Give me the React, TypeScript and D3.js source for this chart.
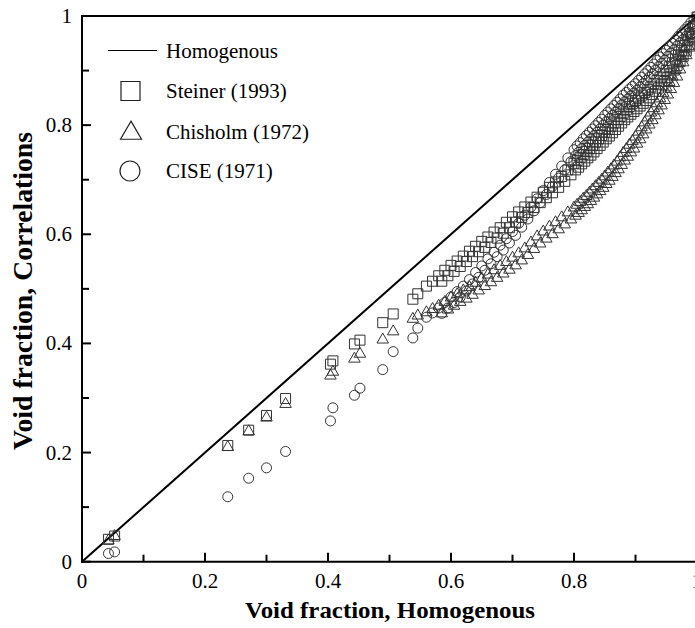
import React from "react";
import * as d3 from "d3";

// ---- data ----
// run A: sparse points + dense band centre
const HOM_X = [
  0.043, 0.053, 0.237, 0.271, 0.300, 0.331, 0.404, 0.408, 0.443, 0.452, 0.489, 0.506, 0.538, 0.546,
  0.56, 0.57, 0.58, 0.59, 0.60, 0.61, 0.62, 0.63, 0.64, 0.65, 0.66, 0.67, 0.68, 0.69, 0.70, 0.71, 0.72, 0.73, 0.74, 0.75, 0.76, 0.77, 0.78, 0.79, 0.80,
  0.805, 0.81, 0.815, 0.82, 0.825, 0.83, 0.835, 0.84, 0.845, 0.85, 0.855, 0.86, 0.865, 0.87, 0.875, 0.88, 0.885, 0.89, 0.895, 0.90,
  0.905, 0.91, 0.915, 0.92, 0.925, 0.93, 0.935, 0.94, 0.945, 0.95, 0.955, 0.96, 0.965, 0.97, 0.975, 0.98, 0.985, 0.99, 0.995, 1.0,
];

const STEINER = [
  0.041, 0.047, 0.213, 0.241, 0.268, 0.299, 0.362, 0.368, 0.399, 0.406, 0.438, 0.454, 0.481, 0.491,
  0.505, 0.514, 0.524, 0.534, 0.543, 0.551, 0.560, 0.569, 0.578, 0.587, 0.595, 0.604, 0.612, 0.622, 0.632, 0.641, 0.650, 0.659, 0.668, 0.677, 0.686, 0.696, 0.706, 0.718, 0.730,
  0.735, 0.741, 0.746, 0.752, 0.757, 0.763, 0.769, 0.775, 0.781, 0.787, 0.792, 0.798, 0.804, 0.810, 0.816, 0.822, 0.828, 0.834, 0.840, 0.845,
  0.850, 0.855, 0.860, 0.865, 0.870, 0.876, 0.882, 0.888, 0.894, 0.900, 0.907, 0.914, 0.921, 0.929, 0.937, 0.946, 0.956, 0.968, 0.982, 0.998,
];

const CHISHOLM = [
  0.040, 0.048, 0.211, 0.240, 0.265, 0.290, 0.342, 0.349, 0.373, 0.382, 0.408, 0.423, 0.446, 0.452,
  0.458, 0.464, 0.470, 0.477, 0.485, 0.491, 0.498, 0.504, 0.512, 0.520, 0.527, 0.535, 0.543, 0.550, 0.558, 0.566, 0.575, 0.586, 0.597, 0.606, 0.615, 0.623, 0.632, 0.641, 0.650,
  0.655, 0.660, 0.666, 0.671, 0.677, 0.683, 0.689, 0.695, 0.701, 0.707, 0.714, 0.720, 0.727, 0.734, 0.742, 0.750, 0.757, 0.765, 0.772, 0.780,
  0.789, 0.797, 0.806, 0.815, 0.824, 0.832, 0.841, 0.850, 0.860, 0.870, 0.880, 0.890, 0.902, 0.914, 0.927, 0.940, 0.954, 0.968, 0.984, 0.998,
];

const CISE = [
  0.015, 0.018, 0.119, 0.153, 0.172, 0.202, 0.258, 0.282, 0.305, 0.318, 0.352, 0.385, 0.410, 0.428,
  0.448, 0.456, 0.465, 0.475, 0.485, 0.495, 0.505, 0.517, 0.530, 0.542, 0.555, 0.567, 0.580, 0.592, 0.605, 0.620, 0.635, 0.650, 0.665, 0.680, 0.695, 0.710, 0.725, 0.740, 0.755,
  0.762, 0.768, 0.775, 0.781, 0.787, 0.793, 0.799, 0.805, 0.811, 0.818, 0.824, 0.830, 0.836, 0.842, 0.848, 0.855, 0.860, 0.866, 0.871, 0.876,
  0.882, 0.888, 0.894, 0.900, 0.906, 0.912, 0.919, 0.925, 0.931, 0.937, 0.944, 0.950, 0.956, 0.963, 0.969, 0.975, 0.981, 0.988, 0.994, 1.0,
];

// run B: lower edge of each dense band
const HOM_X_B = [
  0.585, 0.595, 0.605, 0.615, 0.625, 0.635, 0.645, 0.655, 0.665, 0.675, 0.685, 0.695, 0.705, 0.715, 0.725, 0.735, 0.745, 0.755, 0.765, 0.775, 0.785, 0.795,
  0.8025, 0.8075, 0.8125, 0.8175, 0.8225, 0.8275, 0.8325, 0.8375, 0.8425, 0.8475, 0.8525, 0.8575, 0.8625, 0.8675, 0.8725, 0.8775, 0.8825, 0.8875, 0.8925, 0.8975,
  0.9025, 0.9075, 0.9125, 0.9175, 0.9225, 0.9275, 0.9325, 0.9375, 0.9425, 0.9475, 0.9525, 0.9575, 0.9625, 0.9675, 0.9725, 0.9775, 0.9825, 0.9875, 0.9925, 0.9975,
];

const STEINER_B = [
  0.514, 0.524, 0.532, 0.541, 0.550, 0.559, 0.568, 0.576, 0.585, 0.593, 0.602, 0.612, 0.622, 0.631, 0.640, 0.649, 0.658, 0.667, 0.676, 0.686, 0.697, 0.709,
  0.718, 0.723, 0.729, 0.734, 0.740, 0.745, 0.751, 0.757, 0.763, 0.769, 0.775, 0.780, 0.786, 0.792, 0.798, 0.804, 0.810, 0.815, 0.820, 0.825,
  0.830, 0.835, 0.840, 0.845, 0.850, 0.856, 0.862, 0.868, 0.874, 0.880, 0.887, 0.894, 0.901, 0.909, 0.917, 0.926, 0.936, 0.948, 0.962, 0.980,
];

const CHISHOLM_B = [
  0.456, 0.463, 0.470, 0.477, 0.483, 0.490, 0.498, 0.506, 0.513, 0.521, 0.529, 0.536, 0.544, 0.553, 0.563, 0.574, 0.584, 0.593, 0.601, 0.610, 0.619, 0.628,
  0.635, 0.640, 0.645, 0.651, 0.656, 0.662, 0.668, 0.674, 0.680, 0.686, 0.693, 0.699, 0.706, 0.713, 0.720, 0.728, 0.736, 0.743, 0.751, 0.758,
  0.767, 0.775, 0.784, 0.793, 0.802, 0.810, 0.819, 0.828, 0.837, 0.847, 0.857, 0.867, 0.878, 0.890, 0.903, 0.916, 0.929, 0.943, 0.958, 0.973,
];

const CISE_B = [
  0.455, 0.465, 0.475, 0.485, 0.496, 0.509, 0.521, 0.534, 0.546, 0.559, 0.571, 0.584, 0.598, 0.613, 0.628, 0.643, 0.658, 0.673, 0.688, 0.703, 0.718, 0.733,
  0.744, 0.750, 0.757, 0.763, 0.769, 0.775, 0.781, 0.787, 0.793, 0.800, 0.806, 0.812, 0.818, 0.824, 0.830, 0.837, 0.843, 0.848, 0.854, 0.859,
  0.864, 0.870, 0.876, 0.882, 0.888, 0.894, 0.901, 0.907, 0.913, 0.919, 0.926, 0.932, 0.938, 0.945, 0.951, 0.957, 0.963, 0.970, 0.977, 0.983,
];

const LINE_X = [0, 1];
const MAJOR_TICKS = [0, 0.2, 0.4, 0.6, 0.8, 1];
const TICK_LABELS = ["0", "0.2", "0.4", "0.6", "0.8", "1"];
const MINOR_TICKS = [0.1, 0.3, 0.5, 0.7, 0.9];
const LEGEND = ["Homogenous", "Steiner (1993)", "Chisholm (1972)", "CISE (1971)"];
const X_TITLE = "Void fraction, Homogenous";
const Y_TITLE = "Void fraction, Correlations";

const W = 695;
const H = 628;
const FONT = "'Liberation Serif', 'Times New Roman', serif";

const x = d3.scaleLinear().domain([0, 1]).range([82, 697]);
const y = d3.scaleLinear().domain([0, 1]).range([561.7, 16]);

const squarePath = (s: number) => d3.symbol(d3.symbolSquare, s * s)() || "";
const circlePath = (d: number) => d3.symbol(d3.symbolCircle, Math.PI * (d / 2) * (d / 2))() || "";
const trianglePath = (side: number) => {
  const h = (side * Math.sqrt(3)) / 2;
  const p = d3.path();
  p.moveTo(0, -h * 0.6);
  p.lineTo(side / 2, h * 0.4);
  p.lineTo(-side / 2, h * 0.4);
  p.closePath();
  return p.toString();
};

const MARK_STROKE = "#333";

function Marks({ xs, ys, d, k }: { xs: number[]; ys: number[]; d: string; k: string }) {
  return (
    <>
      {xs.map((v, i) => (
        <path key={k + i} d={d} transform={`translate(${x(v)},${y(ys[i])})`} />
      ))}
    </>
  );
}

export default function App() {
  const sq = squarePath(10);
  const ci = circlePath(10);
  const tr = trianglePath(11.5);
  const line = d3.line<number>().x((d) => x(d)).y((d) => y(d));

  const legendY = [50.5, 91, 132, 171];

  return (
    <svg
      width={W}
      height={H}
      style={{ position: "absolute", left: 0, top: 0, background: "#fff" }}
      fontFamily={FONT}
    >
      <rect x={0} y={0} width={W} height={H} fill="#fff" />
      {/* homogeneous diagonal */}
      <path d={line(LINE_X) || ""} stroke="#000" strokeWidth={2} fill="none" />

      {/* scatter series */}
      <g fill="none" stroke={MARK_STROKE} strokeWidth={1}>
        <Marks xs={HOM_X} ys={STEINER} d={sq} k="sa" />
        <Marks xs={HOM_X_B} ys={STEINER_B} d={sq} k="sb" />
        <Marks xs={HOM_X} ys={CHISHOLM} d={tr} k="ta" />
        <Marks xs={HOM_X_B} ys={CHISHOLM_B} d={tr} k="tb" />
        <Marks xs={HOM_X} ys={CISE} d={ci} k="ca" />
        <Marks xs={HOM_X_B} ys={CISE_B} d={ci} k="cb" />
      </g>

      {/* frame */}
      <line x1={x(0)} x2={x(0)} y1={y(0) + 1} y2={y(1) - 1} stroke="#000" strokeWidth={2} />
      <line x1={x(0) - 1} x2={x(1)} y1={y(0)} y2={y(0)} stroke="#000" strokeWidth={2} />
      <line x1={x(0) - 1} x2={x(1)} y1={y(1)} y2={y(1)} stroke="#000" strokeWidth={2} />
      <line x1={x(1)} x2={x(1)} y1={y(0)} y2={y(1)} stroke="#000" strokeWidth={2} />

      {/* ticks */}
      {MAJOR_TICKS.map((t) => (
        <g key={"mx" + t}>
          <line x1={x(t)} x2={x(t)} y1={y(0)} y2={y(0) - 9} stroke="#000" strokeWidth={2} />
          <line x1={x(0)} x2={x(0) + 9} y1={y(t)} y2={y(t)} stroke="#000" strokeWidth={2} />
        </g>
      ))}
      {MINOR_TICKS.map((t) => (
        <g key={"nx" + t}>
          <line x1={x(t)} x2={x(t)} y1={y(0)} y2={y(0) - 7} stroke="#000" strokeWidth={2} />
          <line x1={x(0)} x2={x(0) + 7} y1={y(t)} y2={y(t)} stroke="#000" strokeWidth={2} />
        </g>
      ))}

      {/* tick labels */}
      {MAJOR_TICKS.map((t, i) => (
        <text key={"lx" + t} x={x(t)} y={588} textAnchor="middle" fontSize={21} fill="#000">
          {TICK_LABELS[i]}
        </text>
      ))}
      {MAJOR_TICKS.map((t, i) => (
        <text key={"ly" + t} x={72} y={y(t) + 7} textAnchor="end" fontSize={21} fill="#000">
          {TICK_LABELS[i]}
        </text>
      ))}

      {/* axis titles */}
      <text
        x={390}
        y={618}
        textAnchor="middle"
        fontSize={24}
        fontWeight="bold"
        fill="#000"
        textLength={290}
        lengthAdjust="spacingAndGlyphs"
      >
        {X_TITLE}
      </text>
      <text
        transform={`translate(32,291) rotate(-90)`}
        textAnchor="middle"
        fontSize={27}
        fontWeight="bold"
        fill="#000"
        textLength={318}
        lengthAdjust="spacingAndGlyphs"
      >
        {Y_TITLE}
      </text>

      {/* legend */}
      <g>
        <line x1={108} x2={157} y1={legendY[0]} y2={legendY[0]} stroke="#000" strokeWidth={1.2} />
        <path d={squarePath(19)} transform={`translate(130.5,${legendY[1]})`} fill="none" stroke="#222" strokeWidth={1.2} />
        <path d={trianglePath(21)} transform={`translate(131,${legendY[2]})`} fill="none" stroke="#222" strokeWidth={1.2} />
        <path d={circlePath(20)} transform={`translate(130,${legendY[3]})`} fill="none" stroke="#222" strokeWidth={1.2} />
        {LEGEND.map((l, i) => (
          <text key={l} x={166} y={legendY[i] + 7} fontSize={21} fill="#000">
            {l}
          </text>
        ))}
      </g>
    </svg>
  );
}
